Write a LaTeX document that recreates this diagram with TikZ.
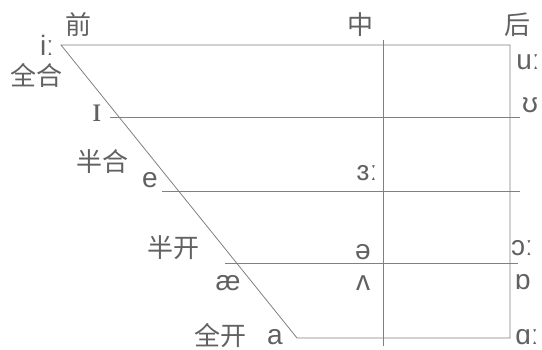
\documentclass[tikz,border=0pt]{standalone}
\usepackage{fontspec}
\setmainfont{Liberation Sans}
\newfontfamily\cjk{Noto Sans CJK SC}
\newfontfamily\ipaserif{Liberation Serif}
\definecolor{linegray}{gray}{0.5}
\definecolor{textgray}{gray}{0.38}
\begin{document}
\begin{tikzpicture}[x=1pt,y=-1pt,
  gridline/.style={draw=linegray, line width=0.8pt},
  ipa/.style={text=textgray, font=\fontsize{28}{28}\selectfont, inner sep=0pt},
  cjklab/.style={text=textgray, font=\cjk\fontsize{26}{26}\selectfont, inner sep=0pt}]
\useasboundingbox (0,0) rectangle (542,350);
% frame coordinates
\coordinate (TL) at (61,45);
\coordinate (TR) at (510,45);
\coordinate (BL) at (297,338);
\coordinate (BR) at (510,338);
\coordinate (Mt) at (383,40);
\coordinate (Mb) at (383,346);
\coordinate (R1a) at (110,117); \coordinate (R1b) at (520,117);
\coordinate (R2a) at (162,191); \coordinate (R2b) at (520,191);
\coordinate (R3a) at (225,263); \coordinate (R3b) at (518,263);
% frame
\draw[gridline] (TR) -- (TL) -- (BL) -- (BR) -- cycle;
\draw[gridline] (Mt) -- (Mb);
\draw[gridline] (R1a) -- (R1b);
\draw[gridline] (R2a) -- (R2b);
\draw[gridline] (R3a) -- (R3b);
% column labels
\node[cjklab] (qian) at (78,25) {前};
\node[cjklab] (zhong) at (360,25) {中};
\node[cjklab] (hou) at (517,25) {后};
% row labels
\node[cjklab] (quanhe) at (36,75) {全合};
\node[cjklab] (banhe) at (102,162) {半合};
\node[cjklab] (bankai) at (173,248) {半开};
\node[cjklab] (quankai) at (220,336) {全开};
% vowels
\node[ipa] (i) at (47,45) {iː};
\node[ipa, font=\ipaserif\fontsize{36}{36}\selectfont] (I) at (97,113) {ɪ};
\node[ipa] (e) at (150,180) {e};
\node[ipa] (ae) at (228,283) {æ};
\node[ipa] (a) at (275,337) {a};
\node[ipa] (er) at (367,173) {ɜː};
\node[ipa] (schwa) at (363,252) {ə};
\node[ipa] (wedge) at (363,283) {ʌ};
\node[ipa] (u) at (528,62) {uː};
\node[ipa] (U) at (530,105) {ʊ};
\node[ipa] (o) at (522,248) {ɔː};
\node[ipa] (O) at (523,282) {ɒ};
\node[ipa] (A) at (527,337) {ɑː};
\end{tikzpicture}
\end{document}
